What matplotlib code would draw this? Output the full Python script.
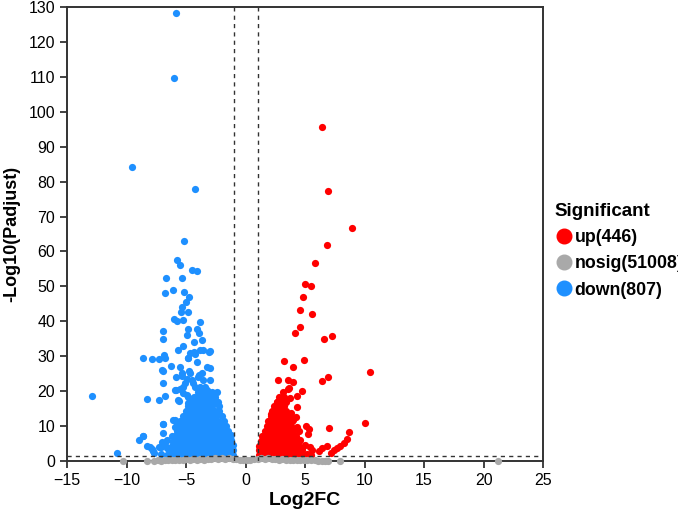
import matplotlib
matplotlib.use('Agg')
import matplotlib.pyplot as plt
from matplotlib.lines import Line2D

plt.rcParams['font.family'] = ['Liberation Sans', 'DejaVu Sans']

# significant down-regulated genes (log2FC, -log10 padj)
down_pts = [
    (-5.84, 128.4), (-5.98, 109.6), (-9.51, 84.3), (-4.24, 78.0), (-5.17, 63.0),
    (-5.78, 57.6), (-5.50, 56.1), (-4.52, 54.7), (-4.05, 54.4), (-6.68, 52.3),
    (-5.36, 52.3), (-6.12, 49.0), (-6.74, 48.2), (-5.17, 48.4), (-4.72, 47.0),
    (-5.03, 45.6), (-5.36, 44.2), (-5.45, 42.8), (-4.81, 42.8), (-5.98, 40.6),
    (-5.78, 40.2), (-5.28, 40.4), (-3.82, 39.9), (-6.91, 37.3), (-4.81, 37.8),
    (-4.05, 37.8), (-4.89, 36.1), (-3.88, 36.6), (-4.33, 34.2), (-3.68, 34.5),
    (-6.91, 34.8), (-5.28, 32.9), (-5.65, 31.8), (-8.64, 29.4), (-7.88, 29.1),
    (-7.32, 29.1), (-6.85, 30.4), (-6.76, 29.4), (-4.81, 29.6), (-4.33, 31.3),
    (-3.55, 31.8), (-2.98, 31.5), (-4.10, 28.4), (-3.26, 27.0), (-6.29, 27.2),
    (-5.50, 27.0), (-7.02, 26.1), (-4.72, 25.9), (-5.84, 24.1), (-5.36, 24.3),
    (-4.94, 23.4), (-3.88, 24.6), (-2.98, 23.2), (-6.96, 22.2), (-5.22, 21.3),
    (-4.38, 22.2), (-5.92, 20.3), (-6.76, 18.7), (-8.30, 17.7), (-7.24, 17.5),
    (-5.65, 17.5), (-4.94, 18.9), (-12.92, 18.6), (-4.10, 18.4), (-4.81, 16.5),
    (-5.92, 11.7), (-6.91, 10.6), (-5.78, 10.6), (-6.96, 8.1), (-8.64, 7.2),
    (-8.92, 6.0), (-7.04, 5.5), (-6.62, 6.0), (-6.07, 5.5), (-8.25, 4.3),
    (-7.88, 3.5), (-7.13, 3.9), (-6.57, 3.6), (-10.83, 2.4), (-7.74, 2.2),
    (-7.13, 2.0), (-6.35, 2.4), (-6.96, 25.9), (-5.36, 25.1), (-5.84, 20.3),
    (-5.56, 17.3), (-5.22, 19.4), (-6.07, 11.7), (-5.92, 9.8), (-6.96, 10.6),
    (-6.20, 7.0), (-5.50, 8.9), (-8.03, 4.1), (-7.32, 4.1), (-7.80, 2.7),
    (-8.59, 7.0), (-6.40, 3.6), (-6.80, 5.1), (-4.66, 30.8), (-4.24, 30.6),
    (-3.82, 31.8), (-3.07, 31.3), (-4.81, 29.4), (-3.68, 25.1), (-3.97, 24.1),
    (-3.55, 23.2), (-2.98, 26.5), (-3.26, 20.3), (-2.42, 19.8), (-2.56, 17.5),
    (-2.29, 17.0), (-4.66, 25.1), (-5.08, 22.2), (-5.50, 20.5), (-4.52, 23.2),
    (-4.24, 21.3), (-4.81, 18.4),
    # dense core
    (-6.6, 1.6), (-6.2, 1.6), (-5.8, 1.6), (-5.4, 1.6), (-5.0, 1.6), (-4.6, 1.6),
    (-4.2, 1.6), (-3.8, 1.6), (-3.4, 1.6), (-3.0, 1.6), (-2.6, 1.6), (-2.2, 1.6),
    (-1.8, 1.6), (-1.4, 1.6), (-1.05, 1.6),
    (-6.4, 3.0), (-6.0, 3.0), (-5.6, 3.0), (-5.2, 3.0), (-4.8, 3.0), (-4.4, 3.0),
    (-4.0, 3.0), (-3.6, 3.0), (-3.2, 3.0), (-2.8, 3.0), (-2.4, 3.0), (-2.0, 3.0),
    (-1.6, 3.0), (-1.2, 3.0), (-1.05, 3.2),
    (-6.2, 4.4), (-5.8, 4.4), (-5.4, 4.4), (-5.0, 4.4), (-4.6, 4.4), (-4.2, 4.4),
    (-3.8, 4.4), (-3.4, 4.4), (-3.0, 4.4), (-2.6, 4.4), (-2.2, 4.4), (-1.8, 4.4),
    (-1.4, 4.4), (-1.1, 4.6),
    (-6.0, 5.8), (-5.6, 5.8), (-5.2, 5.8), (-4.8, 5.8), (-4.4, 5.8), (-4.0, 5.8),
    (-3.6, 5.8), (-3.2, 5.8), (-2.8, 5.8), (-2.4, 5.8), (-2.0, 5.8), (-1.6, 5.8),
    (-1.2, 5.9),
    (-5.9, 7.2), (-5.5, 7.2), (-5.1, 7.2), (-4.7, 7.2), (-4.3, 7.2), (-3.9, 7.2),
    (-3.5, 7.2), (-3.1, 7.2), (-2.7, 7.2), (-2.3, 7.2), (-1.9, 7.2), (-1.5, 7.2),
    (-1.25, 7.3),
    (-5.8, 8.6), (-5.4, 8.6), (-5.0, 8.6), (-4.6, 8.6), (-4.2, 8.6), (-3.8, 8.6),
    (-3.4, 8.6), (-3.0, 8.6), (-2.6, 8.6), (-2.2, 8.6), (-1.8, 8.6), (-1.45, 8.6),
    (-5.7, 10.0), (-5.3, 10.0), (-4.9, 10.0), (-4.5, 10.0), (-4.1, 10.0),
    (-3.7, 10.0), (-3.3, 10.0), (-2.9, 10.0), (-2.5, 10.0), (-2.1, 10.0),
    (-1.65, 10.0),
    (-5.5, 11.4), (-5.1, 11.4), (-4.7, 11.4), (-4.3, 11.4), (-3.9, 11.4),
    (-3.5, 11.4), (-3.1, 11.4), (-2.7, 11.4), (-2.3, 11.4), (-1.85, 11.4),
    (-5.3, 12.8), (-4.9, 12.8), (-4.5, 12.8), (-4.1, 12.8), (-3.7, 12.8),
    (-3.3, 12.8), (-2.9, 12.8), (-2.5, 12.8), (-2.0, 12.8),
    (-5.0, 14.2), (-4.6, 14.2), (-4.2, 14.2), (-3.8, 14.2), (-3.4, 14.2),
    (-3.0, 14.2), (-2.6, 14.2), (-2.2, 14.2),
    (-4.8, 15.6), (-4.4, 15.6), (-4.0, 15.6), (-3.6, 15.6), (-3.2, 15.6),
    (-2.8, 15.6), (-2.2, 15.6),
    (-4.6, 17.0), (-4.2, 17.0), (-3.8, 17.0), (-3.4, 17.0), (-3.0, 17.0),
    (-2.6, 17.0),
    (-4.3, 18.4), (-3.9, 18.4), (-3.5, 18.4), (-3.1, 18.4), (-2.6, 18.4),
    (-4.0, 19.8), (-3.6, 19.8), (-3.2, 19.8), (-2.8, 19.8),
    (-3.8, 21.2), (-3.4, 21.2),
]

# significant up-regulated genes
up_pts = [
    (6.40, 95.7), (6.96, 77.4), (8.95, 66.8), (6.82, 61.9), (5.81, 56.8),
    (4.97, 50.8), (5.48, 50.2), (4.83, 46.9), (4.55, 43.2), (5.61, 42.2),
    (4.55, 38.3), (4.13, 36.7), (6.60, 34.8), (7.27, 35.8), (3.21, 28.7),
    (4.92, 28.8), (3.99, 27.0), (10.44, 25.5), (2.76, 23.2), (3.60, 23.2),
    (3.97, 22.7), (6.43, 22.8), (6.91, 24.1), (3.66, 20.8), (4.72, 20.0),
    (3.18, 19.8), (4.30, 18.6), (3.74, 18.0), (2.67, 16.8), (4.35, 15.5),
    (2.17, 13.4), (3.80, 13.7), (3.97, 11.7), (10.04, 10.8), (4.35, 9.8),
    (5.08, 10.0), (7.04, 9.4), (4.52, 8.6), (5.34, 9.1), (5.28, 7.6),
    (8.67, 8.2), (8.55, 6.4), (4.44, 5.1), (5.00, 4.6), (5.42, 4.1),
    (5.56, 3.1), (4.72, 3.6), (6.82, 4.4), (6.40, 3.6), (6.20, 2.7),
    (8.28, 5.2), (7.94, 4.4), (7.66, 3.6), (7.46, 3.1), (7.16, 2.2),
    (5.14, 2.0), (3.60, 20.5), (4.58, 6.0), (4.44, 4.3), (4.20, 12.5),
    # dense core
    (1.1, 1.6), (1.5, 1.6), (1.9, 1.6), (2.3, 1.6), (2.7, 1.6), (3.1, 1.6),
    (3.5, 1.6), (3.9, 1.6), (4.3, 1.6), (4.7, 1.6), (5.1, 1.6), (5.5, 1.6),
    (1.1, 3.0), (1.5, 3.0), (1.9, 3.0), (2.3, 3.0), (2.7, 3.0), (3.1, 3.0),
    (3.5, 3.0), (3.9, 3.0), (4.3, 3.0), (4.7, 3.0),
    (1.15, 4.4), (1.55, 4.4), (1.95, 4.4), (2.35, 4.4), (2.75, 4.4),
    (3.15, 4.4), (3.55, 4.4), (3.95, 4.4), (4.35, 4.4),
    (1.3, 5.8), (1.7, 5.8), (2.1, 5.8), (2.5, 5.8), (2.9, 5.8), (3.3, 5.8),
    (3.7, 5.8), (4.1, 5.8), (4.5, 5.8),
    (1.4, 7.2), (1.8, 7.2), (2.2, 7.2), (2.6, 7.2), (3.0, 7.2), (3.4, 7.2),
    (3.8, 7.2), (4.2, 7.2),
    (1.6, 8.6), (2.0, 8.6), (2.4, 8.6), (2.8, 8.6), (3.2, 8.6), (3.6, 8.6),
    (4.0, 8.6),
    (1.8, 10.0), (2.2, 10.0), (2.6, 10.0), (3.0, 10.0), (3.4, 10.0), (3.8, 10.0),
    (1.9, 11.4), (2.3, 11.4), (2.7, 11.4), (3.1, 11.4), (3.5, 11.4), (3.9, 11.4),
    (2.1, 12.8), (2.5, 12.8), (2.9, 12.8), (3.3, 12.8), (3.7, 12.8),
    (2.2, 14.2), (2.6, 14.2), (3.0, 14.2), (3.4, 14.2),
    (2.4, 15.6), (2.8, 15.6), (3.2, 15.6),
    (2.6, 17.0), (3.0, 17.0), (3.4, 17.0),
    (2.8, 18.4), (3.2, 18.4),
]

# not significant (piled up just above zero)
nosig_x = [-10.3, -8.3, -7.7, -7.4, -7.1, -6.8, -6.5, -6.2, -5.9, -5.6, -5.3,
           -5.0, -4.7, -4.4, -4.1, -3.8, -3.5, -3.2, -2.9, -2.6, -2.3, -2.0,
           -1.7, -1.4, -1.1, -0.8, -0.5, -0.2, 0.1, 0.4, 0.7, 1.0, 1.3, 1.6,
           1.9, 2.2, 2.5, 2.8, 3.1, 3.4, 3.7, 4.0, 4.3, 4.6, 4.9, 5.2, 5.5,
           5.8, 6.1, 6.4, 6.7, 6.9, 7.9, 21.2]
nosig_y = [0.0, 0.0, 0.1, 0.2, 0.1, 0.3, 0.2, 0.3, 0.4, 0.3, 0.4,
           0.5, 0.3, 0.5, 0.4, 0.6, 0.4, 0.6, 0.5, 0.7, 0.5, 0.7,
           0.6, 0.7, 0.6, 0.5, 0.4, 0.4, 0.4, 0.4, 0.5, 0.6, 0.7, 0.6,
           0.7, 0.5, 0.6, 0.4, 0.5, 0.3, 0.4, 0.3, 0.4, 0.2, 0.3, 0.2, 0.2,
           0.2, 0.1, 0.1, 0.1, 0.1, 0.0, 0.0]

n_up, n_nosig, n_down = 446, 51008, 807

down_x = [p[0] for p in down_pts]
down_y = [p[1] for p in down_pts]
up_x = [p[0] for p in up_pts]
up_y = [p[1] for p in up_pts]

red = '#FF0000'
grey = '#A9A9A9'
blue = '#1E90FF'

fig = plt.figure(figsize=(6.78, 5.11), dpi=100)
ax = fig.add_axes([0.099, 0.098, 0.702, 0.888])

ax.scatter(down_x, down_y, s=27, color=blue, linewidths=0, zorder=2)
ax.scatter(up_x, up_y, s=27, color=red, linewidths=0, zorder=2)
ax.scatter(nosig_x, nosig_y, s=27, color=grey, linewidths=0, zorder=3, clip_on=False)

# thresholds
ax.axvline(-1, color='#333333', ls=(0, (3, 3)), lw=1, zorder=4)
ax.axvline(1, color='#333333', ls=(0, (3, 3)), lw=1, zorder=4)
ax.axhline(1.3, color='#333333', ls=(0, (3, 3)), lw=1, zorder=4)

ax.set_xlim(-15, 25)
ax.set_ylim(0, 130)
ax.set_xticks(range(-15, 26, 5))
ax.set_yticks(range(0, 131, 10))
ax.tick_params(labelsize=11.5, length=5, width=1.3, color='#333333')
for s in ax.spines.values():
    s.set_linewidth(1.4)
    s.set_color('#333333')

ax.set_xlabel('Log2FC', fontsize=14, fontweight='bold', labelpad=3)
ax.set_ylabel('-Log10(Padjust)', fontsize=13, fontweight='bold', labelpad=6)

handles = [
    Line2D([], [], ls='', marker='o', ms=10.5, color=red, label='up(%d)' % n_up),
    Line2D([], [], ls='', marker='o', ms=10.5, color=grey, label='nosig(%d)' % n_nosig),
    Line2D([], [], ls='', marker='o', ms=10.5, color=blue, label='down(%d)' % n_down),
]
leg = fig.legend(handles=handles, title='Significant', loc='upper left',
                 bbox_to_anchor=(0.807, 0.617), frameon=False,
                 prop={'size': 12.8, 'weight': 'bold'},
                 title_fontproperties={'size': 13.5, 'weight': 'bold'},
                 handletextpad=0.05, handlelength=1.1, labelspacing=0.52,
                 borderaxespad=0)
leg._legend_box.align = 'left'

fig.savefig('out.png', dpi=100)
